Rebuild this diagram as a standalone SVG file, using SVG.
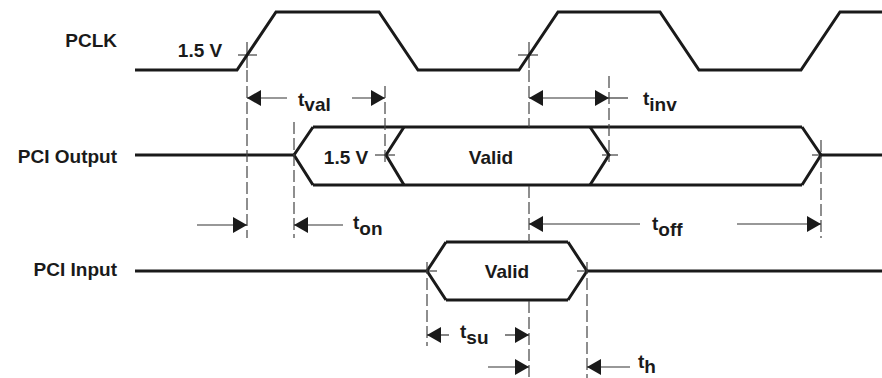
<svg xmlns="http://www.w3.org/2000/svg" width="882" height="378" viewBox="0 0 882 378">
<defs>
<style>
.sig{fill:none;stroke:#1a1a1a;stroke-width:3;stroke-linejoin:miter}
.tick{stroke:#1a1a1a;stroke-width:1}
.dash{stroke:#444;stroke-width:1.2;stroke-dasharray:12,4;fill:none}
.dim{stroke:#333;stroke-width:1.2;fill:none}
.arr{marker-end:url(#ah)}
.arrs{marker-start:url(#ah)}
text{font-family:"Liberation Sans",Arial,Helvetica,sans-serif;font-weight:bold;font-size:19px;fill:#1a1a1a}
.lbl{text-anchor:end}
.mid{text-anchor:middle}
</style>
<marker id="ah" markerUnits="userSpaceOnUse" markerWidth="14" markerHeight="16" refX="14" refY="8" orient="auto-start-reverse">
<path d="M0,0 L14,8 L0,16 Z" fill="#1a1a1a"/>
</marker>
</defs>
<rect width="882" height="378" fill="#fff"/>

<g id="pclk">
<text class="lbl" x="117" y="47">PCLK</text>
<polyline class="sig" points="135,70 237,70 276,12 379,12 418,70 519,70 558,12 660,12 699,70 801,70 840,12 882,12"/>
<text class="mid" x="200" y="57">1.5 V</text>
<line class="tick" x1="238" y1="55" x2="257" y2="55"/>
<line class="tick" x1="247" y1="42" x2="247" y2="68"/>
<line class="tick" x1="518" y1="55" x2="538" y2="55"/>
<line class="tick" x1="529" y1="42" x2="529" y2="68"/>
</g>

<g id="pci-output">
<text class="lbl" x="117" y="163">PCI Output</text>
<polyline class="sig" points="135,155 294,155"/>
<polyline class="sig" points="313,127 294,155 313,185"/>
<line class="sig" x1="313" y1="127" x2="802" y2="127"/>
<line class="sig" x1="313" y1="185" x2="802" y2="185"/>
<polyline class="sig" points="404,127 386,155 404,185"/>
<polyline class="sig" points="590,127 609,155 590,185"/>
<polyline class="sig" points="802,127 821,155 802,185"/>
<line class="sig" x1="821" y1="155" x2="882" y2="155"/>
<text class="mid" x="346" y="164">1.5 V</text>
<text class="mid" x="491" y="164">Valid</text>
<line class="tick" x1="375" y1="155" x2="395" y2="155"/>
<line class="tick" x1="602" y1="155" x2="618" y2="155"/>
<line class="tick" x1="812" y1="155" x2="828" y2="155"/>
</g>

<g id="pci-input">
<text class="lbl" x="117" y="276">PCI Input</text>
<line class="sig" x1="135" y1="271" x2="427" y2="271"/>
<polyline class="sig" points="446,242 427,271 446,300"/>
<line class="sig" x1="446" y1="242" x2="568" y2="242"/>
<line class="sig" x1="446" y1="300" x2="568" y2="300"/>
<polyline class="sig" points="568,242 587,271 568,300"/>
<line class="sig" x1="587" y1="271" x2="882" y2="271"/>
<text class="mid" x="507" y="278">Valid</text>
<line class="tick" x1="427" y1="271" x2="437" y2="271"/>
<line class="tick" x1="577" y1="271" x2="587" y2="271"/>
</g>

<g id="connectors">
<line class="dash" x1="247" y1="70" x2="247" y2="238"/>
<line class="dash" x1="385" y1="86" x2="385" y2="162"/>
<line class="dash" x1="529" y1="70" x2="529" y2="127"/>
<line class="dash" x1="529" y1="186" x2="529" y2="242"/>
<line class="dash" x1="529" y1="301" x2="529" y2="378"/>
<line class="dash" x1="609" y1="76" x2="609" y2="162"/>
<line class="dash" x1="294" y1="122" x2="294" y2="238"/>
<line class="dash" x1="821" y1="140" x2="821" y2="238"/>
<line class="dash" x1="427" y1="262" x2="427" y2="346"/>
<line class="dash" x1="587" y1="262" x2="587" y2="378"/>

<line class="dim arrs" x1="247" y1="98" x2="287" y2="98"/>
<line class="dim arr" x1="352" y1="98" x2="385" y2="98"/>
<text x="298" y="106">t<tspan dy="5">val</tspan></text>

<line class="dim arrs arr" x1="529" y1="98" x2="609" y2="98"/>
<line class="dim" x1="609" y1="98" x2="628" y2="98"/>
<text x="643" y="105">t<tspan dy="6">inv</tspan></text>

<line class="dim arr" x1="197" y1="225" x2="247" y2="225"/>
<line class="dim arrs" x1="294" y1="225" x2="343" y2="225"/>
<text x="353" y="229">t<tspan dy="6">on</tspan></text>

<line class="dim arrs" x1="529" y1="224" x2="640" y2="224"/>
<line class="dim arr" x1="737" y1="224" x2="821" y2="224"/>
<text x="652" y="230">t<tspan dy="6">off</tspan></text>

<line class="dim arrs" x1="427" y1="335" x2="449" y2="335"/>
<line class="dim arr" x1="505" y1="335" x2="529" y2="335"/>
<text x="460" y="338">t<tspan dy="6">su</tspan></text>

<line class="dim arr" x1="488" y1="367" x2="529" y2="367"/>
<line class="dim arrs" x1="587" y1="367" x2="630" y2="367"/>
<text x="638" y="368">t<tspan dy="5">h</tspan></text>
</g>
</svg>
